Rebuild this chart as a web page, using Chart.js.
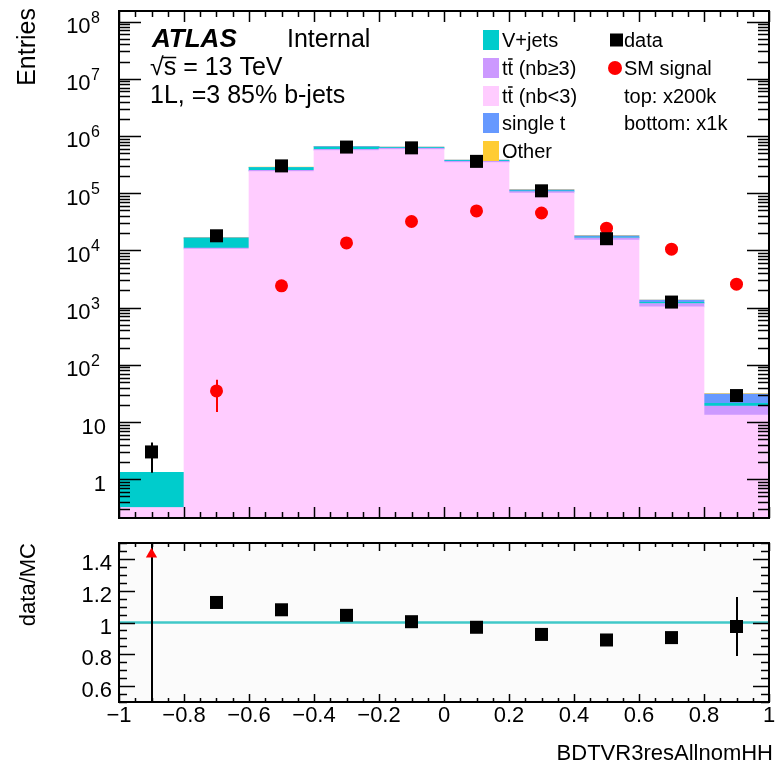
<!DOCTYPE html>
<html>
<head>
<meta charset="utf-8">
<script src="https://cdn.jsdelivr.net/npm/chart.js@4.4.1/dist/chart.umd.min.js"></script>
<style>
  html, body { margin: 0; padding: 0; background: #fff; }
  #wrap { position: relative; width: 779px; height: 765px; }
  #wrap canvas { position: absolute; left: 0; }
  #main { top: 0; }
  #ratio { top: 530px; }
</style>
</head>
<body>
<div id="wrap">
  <canvas id="main" width="779" height="530"></canvas>
  <canvas id="ratio" width="779" height="235"></canvas>
</div>
<script>
// bin centres of BDT score
const binCenters = [-0.9, -0.7, -0.5, -0.3, -0.1, 0.1, 0.3, 0.5, 0.7, 0.9];

// stacked MC, bottom to top
const ttLight   = [0.32, 10500, 239000, 557000, 580000, 344000, 100000, 15200, 1030, 13.2];
const ttHeavy   = [0, 500, 12000, 30000, 28000, 16000, 7000, 1300, 150, 5.7];
const vJets     = [1.0, 5400, 30000, 55000, 22000, 10000, 3000, 600, 60, 2.4];
const singleTop = [0, 200, 3000, 8000, 10000, 10000, 5000, 900, 110, 9.4];
const other     = [0, 100, 600, 1500, 1500, 1000, 500, 100, 10, 0.6];

const dataCounts  = [3, 18000, 300000, 640000, 620000, 360000, 110000, 16000, 1250, 29];
const dataErrDown = [1.7, 134, 550, 800, 790, 600, 330, 126, 35, 5.4];
const dataErrUp   = [1.4, 134, 550, 800, 790, 600, 330, 126, 35, 5.4];

const signal        = [null, 35, 2400, 13500, 32000, 49000, 45000, 24500, 10500, 2570];
const signalErrDown = [null, 20, 0, 0, 0, 0, 0, 0, 0, 0];
const signalErrUp   = [null, 20, 0, 0, 0, 0, 0, 0, 0, 0];

const ratio        = [2.27, 1.126, 1.08, 1.045, 1.005, 0.97, 0.925, 0.89, 0.905, 0.975];
const ratioErrDown = [1.8, 0.01, 0.002, 0.002, 0.002, 0.002, 0.003, 0.008, 0.03, 0.185];
const ratioErrUp   = [1.5, 0.01, 0.002, 0.002, 0.002, 0.002, 0.003, 0.008, 0.03, 0.185];

const logTickExps = [0, 1, 2, 3, 4, 5, 6, 7, 8];
const ratioTickLabels = ['0.6', '0.8', '1', '1.2', '1.4'];
const xTickLabels = ['\u22121', '\u22120.8', '\u22120.6', '\u22120.4', '\u22120.2', '0', '0.2', '0.4', '0.6', '0.8', '1'];

const yMin = 0.21, yMax = 1.53e8;
const ratioMin = 0.5, ratioMax = 1.5;

const FONT = '"Liberation Sans", Arial, Helvetica, sans-serif';

// build floating bars for the stack
const stackParts = [
  { label: 'tt (nb<3)', values: ttLight, color: '#ffccff' },
  { label: 'tt (nb>=3)', values: ttHeavy, color: '#cc99ff' },
  { label: 'V+jets', values: vJets, color: '#00cccc' },
  { label: 'single t', values: singleTop, color: '#6699ff' },
  { label: 'Other', values: other, color: '#ffcc33' }
];
const running = binCenters.map(() => 0);
const barSets = stackParts.map((part, k) => {
  const data = binCenters.map((x, i) => {
    const lo = k === 0 ? yMin : running[i];
    const hi = running[i] + part.values[i];
    running[i] = hi;
    return { x, y: [lo, Math.max(lo, hi)] };
  });
  return {
    type: 'bar', label: part.label, data,
    backgroundColor: part.color, borderWidth: 0,
    grouped: false, barPercentage: 1, categoryPercentage: 1, order: 5
  };
});

const errorBars = {
  id: 'errorBars',
  beforeDatasetDraw(chart, args) {
    const ds = chart.data.datasets[args.index];
    if (!ds.errLow) return;
    const { ctx, chartArea: a } = chart;
    const ys = chart.scales.y, xs = chart.scales.x;
    ctx.save();
    ctx.beginPath();
    ctx.rect(a.left, a.top, a.right - a.left, a.bottom - a.top);
    ctx.clip();
    ctx.strokeStyle = ds.errColor;
    ctx.lineWidth = 2;
    ctx.beginPath();
    ds.errLow.forEach((lo, i) => {
      const hi = ds.errHigh[i];
      if (lo == null || hi == null || hi <= lo) return;
      const px = Math.round(xs.getPixelForValue(binCenters[i]));
      ctx.moveTo(px, ys.getPixelForValue(Math.max(lo, ys.min * 0.5)));
      ctx.lineTo(px, ys.getPixelForValue(hi));
    });
    ctx.stroke();
    ctx.restore();
  }
};

function ticksLine(ctx, x1, y1, x2, y2) { ctx.moveTo(x1, y1); ctx.lineTo(x2, y2); }

const mainFrame = {
  id: 'mainFrame',
  afterDatasetsDraw(chart) {
    const { ctx, chartArea: a, scales: { x, y } } = chart;
    ctx.save();
    ctx.strokeStyle = '#000';
    ctx.lineWidth = 1.5;
    ctx.beginPath();
    for (let e = -1; e <= 8; e++) {
      for (let m = 1; m <= 9; m++) {
        const v = m * Math.pow(10, e);
        if (v < y.min || v > y.max) continue;
        const p = Math.round(y.getPixelForValue(v)) + 0.5;
        const len = m === 1 ? 22 : 11;
        ticksLine(ctx, a.left, p, a.left + len, p);
        ticksLine(ctx, a.right, p, a.right - len, p);
      }
    }
    for (let k = -20; k <= 20; k++) {
      const p = Math.round(x.getPixelForValue(k * 0.05)) + 0.5;
      const len = k % 4 === 0 ? 11 : 6;
      ticksLine(ctx, p, a.bottom, p, a.bottom - len);
      ticksLine(ctx, p, a.top, p, a.top + len);
    }
    ctx.stroke();
    ctx.lineWidth = 2;
    ctx.strokeRect(a.left, a.top, a.right - a.left, a.bottom - a.top);

    // y tick labels 1, 10, 10^n
    ctx.fillStyle = '#000';
    ctx.textAlign = 'right';
    ctx.textBaseline = 'alphabetic';
    logTickExps.forEach(e => {
      const p = y.getPixelForValue(Math.pow(10, e));
      if (e < 2) {
        ctx.font = '22px ' + FONT;
        ctx.fillText(e === 0 ? '1' : '10', 106, p + 11.5);
      } else {
        ctx.font = '16px ' + FONT;
        ctx.fillText(String(e), 100, p + 1);
        const w = ctx.measureText(String(e)).width;
        ctx.font = '22px ' + FONT;
        ctx.fillText('10', 100 - w - 0.5, p + 11.5);
      }
    });

    // axis title
    ctx.save();
    ctx.translate(35, 8);
    ctx.rotate(-Math.PI / 2);
    ctx.font = '25px ' + FONT;
    ctx.textAlign = 'right';
    ctx.fillText('Entries', 0, 0);
    ctx.restore();

    // ATLAS label
    ctx.textAlign = 'left';
    ctx.font = 'italic bold 26px ' + FONT;
    ctx.fillText('ATLAS', 152, 47);
    ctx.font = '25px ' + FONT;
    ctx.fillText('Internal', 287, 47);
    ctx.fillText('\u221As = 13 TeV', 150, 75);
    const rw = ctx.measureText('\u221A').width, sw = ctx.measureText('s').width;
    ctx.lineWidth = 1.5;
    ctx.beginPath();
    ctx.moveTo(150 + rw - 1, 57.5);
    ctx.lineTo(150 + rw + sw, 57.5);
    ctx.stroke();
    ctx.fillText('1L, =3 85% b-jets', 150, 103);

    // legend
    const rows = [
      { color: '#00cccc', text: 'V+jets' },
      { color: '#cc99ff', text: 'tt (nb\u22653)', bar: true },
      { color: '#ffccff', text: 'tt (nb<3)', bar: true },
      { color: '#6699ff', text: 'single t' },
      { color: '#ffcc33', text: 'Other' }
    ];
    const rowY = [40, 68, 96, 123, 151];
    ctx.font = '20px ' + FONT;
    ctx.textBaseline = 'middle';
    rows.forEach((r, i) => {
      ctx.fillStyle = r.color;
      ctx.fillRect(483, rowY[i] - 10, 16, 20);
      ctx.fillStyle = '#000';
      ctx.fillText(r.text, 502, rowY[i] + 1);
      if (r.bar) {
        const tw = ctx.measureText('t').width;
        ctx.lineWidth = 1.5;
        ctx.beginPath();
        ctx.moveTo(502 + tw + 0.5, rowY[i] - 9);
        ctx.lineTo(502 + 2 * tw - 0.5, rowY[i] - 9);
        ctx.stroke();
      }
    });
    ctx.fillStyle = '#000';
    ctx.fillRect(610, rowY[0] - 6.5, 13, 13);
    ctx.fillText('data', 624, rowY[0] + 1);
    ctx.fillStyle = '#ff0000';
    ctx.beginPath();
    ctx.arc(615, rowY[1], 7, 0, Math.PI * 2);
    ctx.fill();
    ctx.fillStyle = '#000';
    ctx.fillText('SM signal', 624, rowY[1] + 1);
    ctx.fillText('top: x200k', 624, rowY[2] + 1);
    ctx.fillText('bottom: x1k', 624, rowY[3] + 1);
    ctx.restore();
  }
};

new Chart(document.getElementById('main'), {
  type: 'bar',
  data: {
    datasets: [
      {
        type: 'line', label: 'data', showLine: false,
        data: binCenters.map((x, i) => ({ x, y: dataCounts[i] })),
        pointStyle: 'rect', pointRadius: 9.2, pointBackgroundColor: '#000', pointBorderWidth: 0,
        errLow: dataCounts.map((v, i) => v - dataErrDown[i]),
        errHigh: dataCounts.map((v, i) => v + dataErrUp[i]),
        errColor: '#000', order: 0
      },
      {
        type: 'line', label: 'SM signal', showLine: false,
        data: binCenters.map((x, i) => ({ x, y: signal[i] })),
        pointStyle: 'circle', pointRadius: 6.5, pointBackgroundColor: '#ff0000', pointBorderWidth: 0,
        errLow: signal.map((v, i) => v == null ? null : v - signalErrDown[i]),
        errHigh: signal.map((v, i) => v == null ? null : v + signalErrUp[i]),
        errColor: '#ff0000', order: 1
      },
      ...barSets
    ]
  },
  options: {
    responsive: false, devicePixelRatio: 1, animation: false, events: [],
    layout: { padding: { left: 119, right: 10, top: 11, bottom: 12 } },
    scales: {
      x: { type: 'linear', min: -1, max: 1, offset: false, display: false, ticks: { stepSize: 0.2 } },
      y: { type: 'logarithmic', min: yMin, max: yMax, display: false }
    },
    plugins: { legend: { display: false }, tooltip: { enabled: false } }
  },
  plugins: [errorBars, mainFrame]
});

const ratioFrame = {
  id: 'ratioFrame',
  beforeDatasetsDraw(chart) {
    const { ctx, chartArea: a } = chart;
    ctx.save();
    ctx.fillStyle = '#fbfbfb';
    ctx.fillRect(a.left, a.top, a.right - a.left, a.bottom - a.top);
    ctx.restore();
  },
  afterDatasetsDraw(chart) {
    const { ctx, chartArea: a, scales: { x, y } } = chart;
    ctx.save();
    ctx.strokeStyle = '#000';
    ctx.lineWidth = 1.5;
    ctx.beginPath();
    for (let k = 10; k <= 30; k++) {
      const p = Math.round(y.getPixelForValue(k * 0.05)) + 0.5;
      const len = k % 4 === 0 ? 16 : 8;
      ticksLine(ctx, a.left, p, a.left + len, p);
      ticksLine(ctx, a.right, p, a.right - len, p);
    }
    for (let k = -20; k <= 20; k++) {
      const p = Math.round(x.getPixelForValue(k * 0.05)) + 0.5;
      const len = k % 4 === 0 ? 8 : 4;
      ticksLine(ctx, p, a.bottom, p, a.bottom - len);
      ticksLine(ctx, p, a.top, p, a.top + len);
    }
    ctx.stroke();
    ctx.lineWidth = 2;
    ctx.strokeRect(a.left, a.top, a.right - a.left, a.bottom - a.top);

    ctx.fillStyle = '#000';
    ctx.font = '22px ' + FONT;
    ctx.textBaseline = 'alphabetic';
    ctx.textAlign = 'right';
    ratioTickLabels.forEach(t => {
      const p = y.getPixelForValue(parseFloat(t));
      ctx.fillText(t, 112, p + 11);
    });
    ctx.textAlign = 'center';
    xTickLabels.forEach((t, i) => {
      const p = x.getPixelForValue(-1 + i * 0.2);
      ctx.fillText(t, p, a.bottom + 20);
    });
    ctx.textAlign = 'right';
    ctx.fillText('BDTVR3resAllnomHH', 773, 230);

    ctx.save();
    ctx.translate(35, a.top);
    ctx.rotate(-Math.PI / 2);
    ctx.font = '22px ' + FONT;
    ctx.textAlign = 'right';
    ctx.fillText('data/MC', 0, 0);
    ctx.restore();
    ctx.restore();
  }
};

const offScale = ratio.map(v => v > ratioMax);
new Chart(document.getElementById('ratio'), {
  type: 'scatter',
  data: {
    datasets: [
      {
        type: 'line', label: 'data/MC', showLine: false,
        data: binCenters.map((x, i) => ({ x, y: offScale[i] ? ratioMax - 0.07 : ratio[i] })),
        pointStyle: offScale.map(o => o ? 'triangle' : 'rect'),
        pointRadius: offScale.map(o => o ? 6.5 : 9.2),
        pointBackgroundColor: offScale.map(o => o ? '#ff0000' : '#000'),
        pointBorderWidth: 0,
        errLow: ratio.map((v, i) => v - ratioErrDown[i]),
        errHigh: ratio.map((v, i) => v + ratioErrUp[i]),
        errColor: '#000', order: 0
      },
      {
        type: 'line', label: 'unity', data: [{ x: -1, y: 1 }, { x: 1, y: 1 }],
        borderColor: 'rgb(64,200,200)', borderWidth: 2.5, pointRadius: 0, order: 2
      }
    ]
  },
  options: {
    responsive: false, devicePixelRatio: 1, animation: false, events: [],
    layout: { padding: { left: 119, right: 10, top: 13, bottom: 63 } },
    scales: {
      x: { type: 'linear', min: -1, max: 1, display: false },
      y: { type: 'linear', min: ratioMin, max: ratioMax, display: false }
    },
    plugins: { legend: { display: false }, tooltip: { enabled: false } }
  },
  plugins: [errorBars, ratioFrame]
});
</script>
</body>
</html>
